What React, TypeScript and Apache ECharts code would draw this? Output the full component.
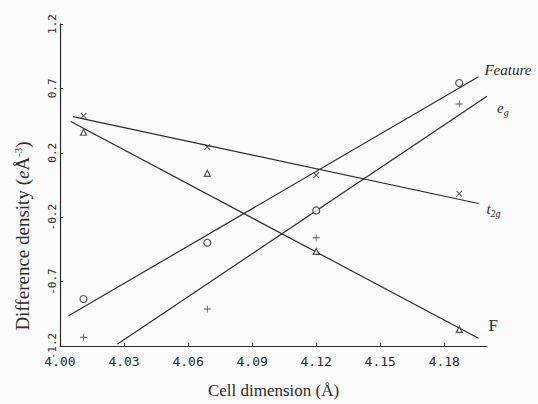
import React, { useEffect, useRef } from "react";
import * as echarts from "echarts";

const cellDims = [4.011, 4.069, 4.12, 4.187];
const featureValues = [-0.85, -0.43, -0.19, 0.76];
const egValues = [-1.135, -0.924, -0.393, 0.604];
const t2gValues = [0.516, 0.284, 0.073, -0.065];
const fValues = [0.393, 0.087, -0.495, -1.076];

const featureFitX = [4.004, 4.196];
const featureFitY = [-0.975, 0.807];
const egFitX = [4.027, 4.2];
const egFitY = [-1.185, 0.662];
const t2gFitX = [4.006, 4.196];
const t2gFitY = [0.509, -0.138];
const fFitX = [4.005, 4.196];
const fFitY = [0.473, -1.142];

const xTicks = [4.0, 4.03, 4.06, 4.09, 4.12, 4.15, 4.18];
const yTicks = [-1.2, -0.72, -0.24, 0.24, 0.72, 1.2];

const INK = "#2b2b2b";
const PLUS = "path://M4.4,0H5.6V10H4.4ZM0,4.4H10V5.6H0Z";

function pairs(xs: number[], ys: number[]) {
  return xs.map((x, i) => [x, ys[i]]);
}

const serif = "'Liberation Serif', 'DejaVu Serif', serif";

function fitLine(name: string, xs: number[], ys: number[], label: any) {
  return {
    name,
    type: "line",
    data: pairs(xs, ys),
    showSymbol: false,
    symbol: "none",
    lineStyle: { color: INK, width: 1.2 },
    silent: true,
    z: 2,
    endLabel: { show: true, ...label },
  };
}

export default function App() {
  const ref = useRef<HTMLDivElement>(null);
  useEffect(() => {
    document.body.style.margin = "0";
    const chart = echarts.init(ref.current!, null, { renderer: "svg" });
    const richBase = {
      i: { fontFamily: serif, fontStyle: "italic", fontSize: 15, color: INK },
      sub: {
        fontFamily: serif,
        fontStyle: "italic",
        fontSize: 10,
        color: INK,
        padding: [9, 0, 0, 0],
      },
    };
    chart.setOption({
      animation: false,
      backgroundColor: "#fcfcfc",
      grid: { left: 60, right: 51, top: 24, bottom: 50, containLabel: false },
      xAxis: {
        type: "value",
        min: 4.0,
        max: 4.2,
        axisLine: { show: true, onZero: false, lineStyle: { color: INK, width: 1.2 } },
        axisTick: {
          show: true,
          inside: true,
          length: 3,
          customValues: xTicks,
          lineStyle: { color: INK },
        },
        splitLine: { show: false },
        axisLabel: {
          customValues: xTicks,
          formatter: (v: number) => v.toFixed(2),
          fontFamily: "'DejaVu Sans Mono', monospace",
          fontSize: 13,
          color: INK,
          margin: 9,
        },
        name: "Cell dimension (Å)",
        nameLocation: "middle",
        nameGap: 36,
        nameTextStyle: { fontFamily: serif, fontSize: 17, color: INK },
      },
      yAxis: {
        type: "value",
        min: -1.2,
        max: 1.2,
        axisLine: { show: true, onZero: false, lineStyle: { color: INK, width: 1.2 } },
        axisTick: {
          show: true,
          inside: true,
          length: 3,
          customValues: yTicks,
          lineStyle: { color: INK },
        },
        splitLine: { show: false },
        axisLabel: {
          customValues: yTicks,
          rotate: 90,
          formatter: (v: number) => {
            const t = Math.trunc(v * 10 + (v > 0 ? 1e-9 : -1e-9)) / 10;
            return t.toFixed(1);
          },
          fontFamily: "'DejaVu Sans Mono', monospace",
          fontSize: 11,
          color: INK,
          margin: 2,
        },
      },
      graphic: [
        {
          type: "text",
          x: 22,
          y: 236,
          rotation: Math.PI / 2,
          style: {
            text: "Difference density ({e|e}Å{sup|-3})",
            fontFamily: serif,
            fontSize: 19,
            fill: INK,
            align: "center",
            verticalAlign: "middle",
            rich: {
              e: { fontFamily: serif, fontStyle: "italic", fontSize: 19, fill: INK },
              sup: { fontFamily: serif, fontSize: 11, fill: INK, padding: [0, 0, 8, 0] },
            },
          },
        },
      ],
      series: [
        fitLine("Feature", featureFitX, featureFitY, {
          formatter: "{i|Feature}",
          rich: richBase,
          offset: [-2, -7],
        }),
        fitLine("eg", egFitX, egFitY, {
          formatter: "{i|e}{sub|g}",
          rich: richBase,
          offset: [2, 12],
        }),
        fitLine("t2g", t2gFitX, t2gFitY, {
          formatter: "{i|t}{sub|2g}",
          rich: richBase,
          offset: [0, 5],
        }),
        fitLine("F", fFitX, fFitY, {
          formatter: "F",
          fontFamily: serif,
          fontSize: 17,
          color: INK,
          offset: [2, -13],
        }),
        {
          name: "Feature points",
          type: "scatter",
          data: pairs(cellDims, featureValues),
          symbol: "circle",
          symbolSize: 7,
          itemStyle: { color: "#fcfcfc", borderColor: INK, borderWidth: 1.2 },
          z: 3,
        },
        {
          name: "eg points",
          type: "scatter",
          data: pairs(cellDims, egValues),
          symbol: PLUS,
          symbolSize: 7,
          itemStyle: { color: INK },
          z: 3,
        },
        {
          name: "t2g points",
          type: "scatter",
          data: pairs(cellDims, t2gValues),
          symbol: PLUS,
          symbolRotate: 45,
          symbolSize: 8,
          itemStyle: { color: INK },
          z: 3,
        },
        {
          name: "F points",
          type: "scatter",
          data: pairs(cellDims, fValues),
          symbol: "triangle",
          symbolSize: 6,
          itemStyle: { color: "#fcfcfc", borderColor: INK, borderWidth: 1.2 },
          z: 3,
        },
      ],
    });
    return () => chart.dispose();
  }, []);
  return (
    <div
      ref={ref}
      style={{ position: "fixed", left: 0, top: 0, width: 538, height: 404 }}
    />
  );
}
